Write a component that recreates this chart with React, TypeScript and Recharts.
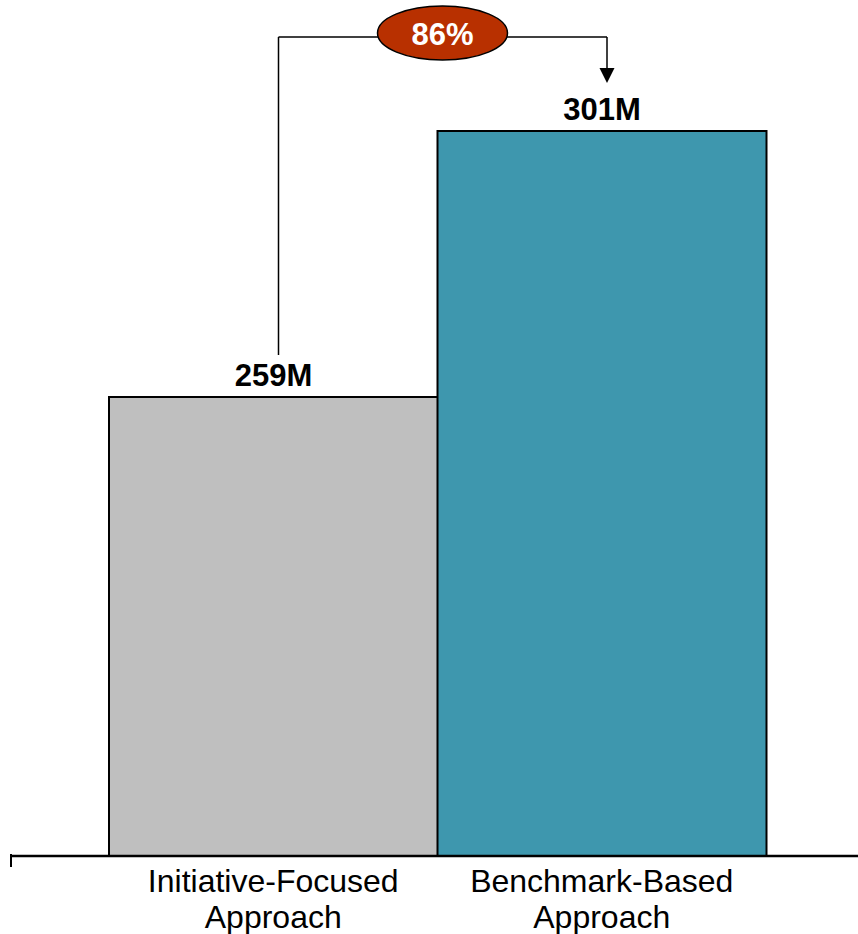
import React from 'react';
import { BarChart, Bar, XAxis, YAxis, Cell, LabelList } from 'recharts';

const categories = ['Initiative-Focused\nApproach', 'Benchmark-Based\nApproach'];
const values = [259, 301];
const barColors = ['#BFBFBF', '#3E97AE'];

const data = categories.map((name, i) => ({ name, value: values[i] }));
const share = Math.round((values[0] / values[1]) * 100);

const FONT = '"Liberation Sans", Arial, Helvetica, sans-serif';
const MARGIN = { top: 0, right: 0, left: 10, bottom: 0 };
const BRACKET_Y = 37;

// category labels, two lines each, plus the single left tick on the baseline
const renderTick = (props: any) => {
  const { x, y, payload, index } = props;
  const lines = String(payload.value).split('\n');
  return (
    <g>
      {index === 0 && (
        <line x1={MARGIN.left + 1} y1={y - 10} x2={MARGIN.left + 1} y2={y + 3} stroke="#000" strokeWidth={2} />
      )}
      <text x={x} y={y} textAnchor="middle" fontFamily={FONT} fontSize={32} fill="#000">
        {lines.map((l, i) => (
          <tspan key={i} x={x} dy={i === 0 ? 28 : 36}>{l}</tspan>
        ))}
      </text>
    </g>
  );
};

// value labels and the bracket with the share bubble
const renderLabel = (props: any) => {
  const x = Number(props.x);
  const y = Number(props.y);
  const width = Number(props.width);
  const { value, index } = props;
  const cx = x + width / 2;
  const label = (
    <text x={cx} y={y - 11} textAnchor="middle" fontFamily={FONT} fontSize={31} fontWeight={700} fill="#000">
      {`${value}M`}
    </text>
  );
  if (index === 0) {
    return (
      <g>
        <line x1={cx + 5} y1={y - 42} x2={cx + 5} y2={BRACKET_Y} stroke="#000" strokeWidth={1.5} />
        <line x1={cx + 5} y1={BRACKET_Y} x2={x + width} y2={BRACKET_Y} stroke="#000" strokeWidth={1.5} />
        {label}
      </g>
    );
  }
  const ax = cx + 5;
  const tip = y - 48;
  return (
    <g>
      <line x1={x} y1={BRACKET_Y} x2={ax} y2={BRACKET_Y} stroke="#000" strokeWidth={1.5} />
      <line x1={ax} y1={BRACKET_Y} x2={ax} y2={tip - 12} stroke="#000" strokeWidth={1.5} />
      <polygon points={`${ax - 7.5},${tip - 15} ${ax + 7.5},${tip - 15} ${ax},${tip}`} fill="#000" />
      <ellipse cx={x + 5} cy={BRACKET_Y - 4} rx={65} ry={27} fill="#B83000" stroke="#000" strokeWidth={1.5} />
      <text x={x + 5} y={BRACKET_Y + 8} textAnchor="middle" fontFamily={FONT} fontSize={31} fontWeight={700} fill="#fff">
        {`${share}%`}
      </text>
      {label}
    </g>
  );
};

export default function App() {
  return (
    <div style={{ position: 'absolute', left: 0, top: 0, width: 858, height: 934, background: '#fff' }}>
      <BarChart width={858} height={934} data={data} margin={MARGIN} barCategoryGap={0}>
        <YAxis hide domain={[186.5, 321.7]} allowDataOverflow />
        <XAxis
          dataKey="name"
          height={78}
          padding={{ left: 99, right: 92 }}
          axisLine={{ stroke: '#000', strokeWidth: 2.5 }}
          tickLine={false}
          tick={renderTick}
          interval={0}
        />
        <Bar dataKey="value" stroke="#000" strokeWidth={2} isAnimationActive={false}>
          {data.map((d, i) => (
            <Cell key={d.name} fill={barColors[i]} />
          ))}
          <LabelList dataKey="value" content={renderLabel} />
        </Bar>
      </BarChart>
    </div>
  );
}
